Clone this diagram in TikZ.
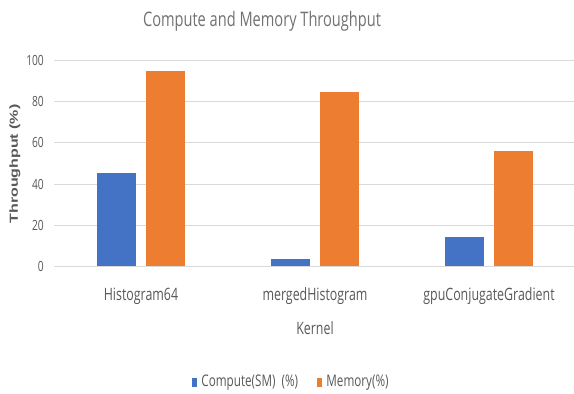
\documentclass[tikz,border=0pt]{standalone}
\usepackage{fontspec}
\usepackage{graphicx}
\setmainfont{Open Sans}
\newfontfamily\chartfont[FakeStretch=0.73]{Open Sans}
\newfontfamily\axisfont{Liberation Sans}
\usetikzlibrary{positioning}
\definecolor{xlblue}{RGB}{68,114,196}
\definecolor{xlorange}{RGB}{237,125,49}
\definecolor{xlgrid}{RGB}{217,217,217}
\definecolor{xltext}{RGB}{89,89,89}
\tikzset{
  gridln/.style={xlgrid, line width=1pt},
  cbar/.style={fill=xlblue},
  mbar/.style={fill=xlorange},
  ttl/.style={font=\chartfont\fontsize{20}{24}\selectfont, text=xltext!85},
  ticklab/.style={font=\chartfont\fontsize{14}{16}\selectfont, text=xltext, inner sep=0pt},
  catlab/.style={font=\chartfont\fontsize{17}{20}\selectfont, text=xltext, inner sep=0pt},
  ylab/.style={font=\axisfont\bfseries\fontsize{16}{18}\selectfont, text=xltext, inner sep=0pt},
  legsq/.style={minimum width=5pt, minimum height=9pt, inner sep=0pt},
  leglab/.style={font=\chartfont\fontsize{16}{18}\selectfont, text=xltext, inner sep=0pt},
}

\begin{document}
\begin{tikzpicture}[x=1pt,y=1pt]
\def\X{54} \def\Y{127.5} \def\V{2.06} \def\G{174}
\fill[white] (0,0) rectangle (574,394);
\useasboundingbox (0,0) rectangle (574,394);
\node[ttl] (title) at (262,373) {Compute and Memory Throughput};
% grid and value axis
\foreach \v in {0,20,...,100} {
  \draw[gridln] (\X,{\Y+\v*\V}) -- (574,{\Y+\v*\V});
  \node[ticklab, anchor=east] (tick\v) at ({\X-10},{\Y+\v*\V}) {\v};
}
% bars per kernel
\foreach \i/\c/\m/\k in {0/45.2/95/Histogram64, 1/3.5/84.5/mergedHistogram, 2/14.2/56/gpuConjugateGradient} {
  \fill[cbar] ({\X+\G*\i+43},\Y) rectangle ({\X+\G*\i+82},{\Y+\c*\V});
  \fill[mbar] ({\X+\G*\i+92},\Y) rectangle ({\X+\G*\i+131},{\Y+\m*\V});
  \node[catlab] (kern\i) at ({\X+\G*\i+87},98) {\k};
}
\node[catlab] (xtitle) at (315,66) {Kernel};
\node[ylab, rotate=90] (ytitle) at (15,230) {\scalebox{1}[0.73]{Throughput (\%)}};
% legend
\node[legsq, fill=xlblue] (sqc) at (194.5,11.5) {};
\node[leglab, right=4pt of sqc] (legc) {Compute(SM)\ \ (\%)};
\node[legsq, fill=xlorange] (sqm) at (319.5,11.5) {};
\node[leglab, right=4pt of sqm] (legm) {Memory(\%)};
\end{tikzpicture}
\end{document}
